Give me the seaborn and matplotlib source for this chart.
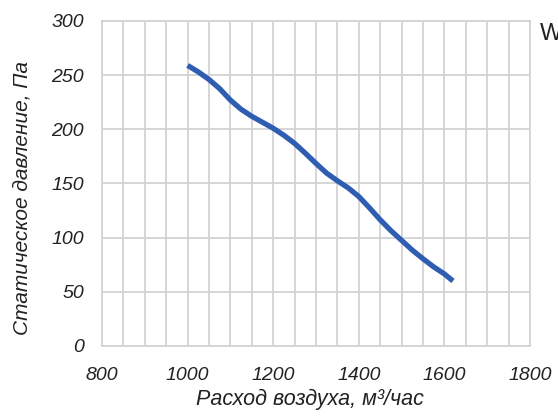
import matplotlib
matplotlib.use("Agg")
import matplotlib.pyplot as plt
import seaborn as sns
import pandas as pd
from matplotlib.ticker import MultipleLocator

# data
airflow = [1000, 1025, 1050, 1075, 1100, 1125, 1150, 1175, 1200, 1225, 1250,
           1275, 1300, 1325, 1350, 1375, 1400, 1425, 1450, 1475, 1500, 1525,
           1550, 1575, 1600, 1620]
pressure = [259, 253, 246, 237.5, 227, 218.5, 212, 206.5, 201, 194.5, 187,
            178, 168.5, 159.5, 152.5, 146, 138, 127.5, 116.5, 106.5, 97.5, 88.5,
            80.5, 73, 66.5, 60]
x_ticks = [800, 1000, 1200, 1400, 1600, 1800]
y_ticks = [0, 50, 100, 150, 200, 250, 300]

df = pd.DataFrame({"x": airflow, "y": pressure})

sns.set_style("white")
plt.rcParams['font.family'] = ['Liberation Sans', 'DejaVu Sans']

fig = plt.figure(figsize=(5.58, 4.16), dpi=100)
ax = fig.add_axes([102 / 558, 1 - 346 / 416, (530 - 102) / 558, (346 - 21) / 416])

grid_c = "#d3d3d3"
text_c = "#222222"
sns.lineplot(data=df, x="x", y="y", ax=ax, color="#2f5db2", linewidth=3.8,
             solid_capstyle="butt", solid_joinstyle="round", zorder=3)

ax.set_xlim(800, 1800)
ax.set_ylim(0, 300)
ax.set_xticks(x_ticks)
ax.set_yticks(y_ticks)
ax.xaxis.set_minor_locator(MultipleLocator(50))
ax.grid(True, which="both", axis="x", color=grid_c, linewidth=1.3)
ax.grid(True, which="major", axis="y", color=grid_c, linewidth=1.3)
ax.tick_params(axis="x", which="major", length=5, width=1.3, color=grid_c, pad=10,
               labelsize=14, labelcolor=text_c)
ax.tick_params(axis="x", which="minor", length=0)
ax.tick_params(axis="y", which="major", length=5, width=1.3, color=grid_c, pad=8,
               labelsize=14, labelcolor=text_c)
for lab in ax.get_xticklabels() + ax.get_yticklabels():
    lab.set_fontstyle("italic")
for s in ax.spines.values():
    s.set_color(grid_c)
    s.set_linewidth(1.3)

ax.set_xlabel("Расход воздуха, м³/час", fontsize=15.5, fontstyle="italic",
              color=text_c)
ax.set_ylabel("Статическое давление, Па", fontsize=15, fontstyle="italic",
              color=text_c)
ax.xaxis.set_label_coords((310 - 102) / 428, (346 - 399) / 325)
ax.xaxis.label.set_verticalalignment("center")
ax.yaxis.set_label_coords((22 - 102) / 428, (346 - 198) / 325)
ax.yaxis.label.set_verticalalignment("center")

fig.text(540 / 558, 1 - 34 / 416, "W", fontsize=17, color=text_c,
         ha="left", va="center")

fig.savefig("out.png", dpi=100)
